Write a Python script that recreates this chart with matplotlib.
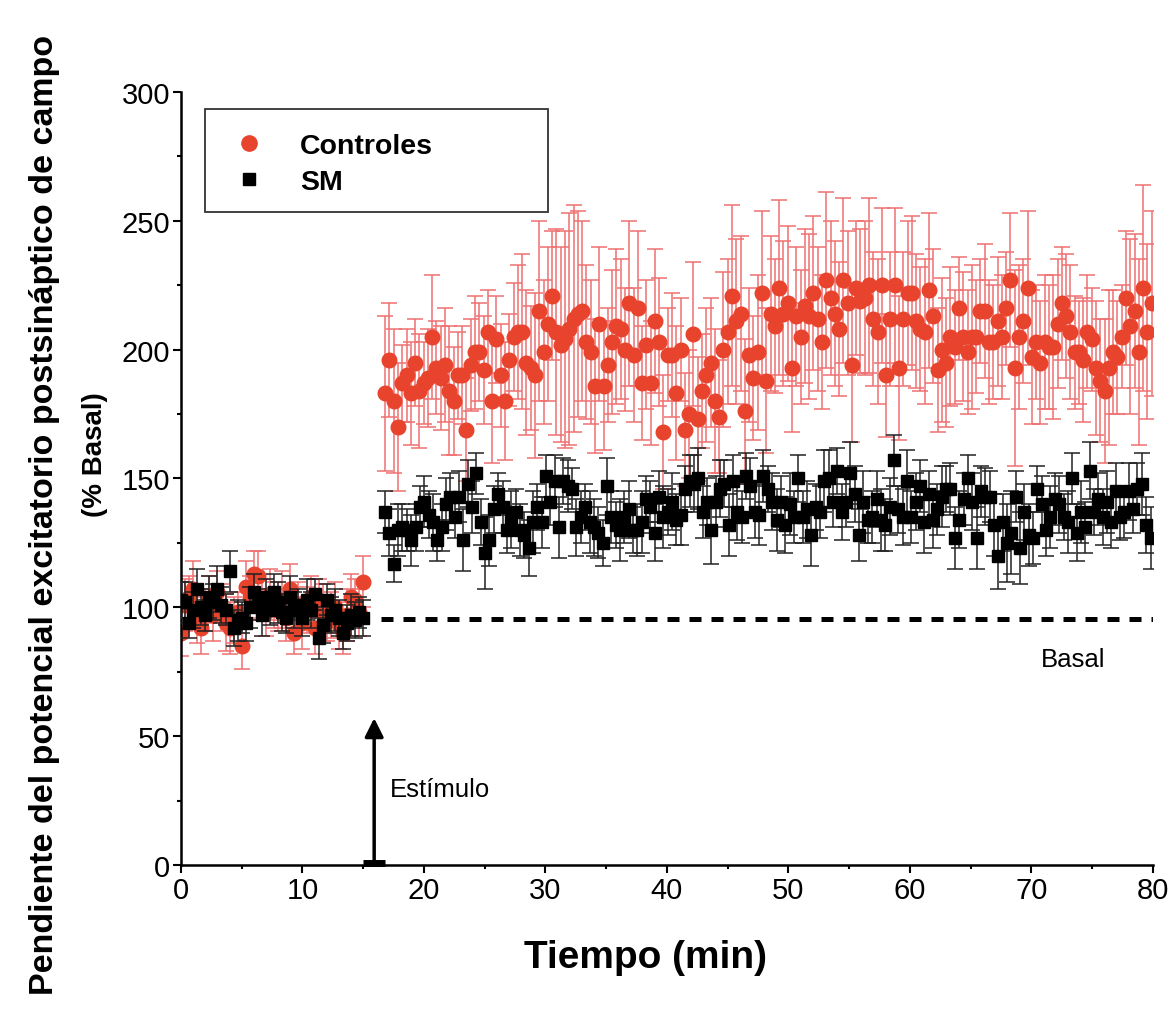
import numpy as np
import matplotlib
matplotlib.use("Agg")
import matplotlib.pyplot as plt
from matplotlib.lines import Line2D
from matplotlib.patches import Rectangle

plt.rcParams['font.family'] = ['Liberation Sans', 'DejaVu Sans']

# ---- data ----
# baseline (0-15 min), one sample every 20 s
base_t = np.linspace(0, 15, 46)
ctrl_base = [90, 101, 104, 107, 95, 92, 99, 103, 97, 106,
             100, 94, 92, 95, 98, 85, 108, 104, 113, 112,
             103, 98, 105, 101, 99, 103, 96, 107, 90, 101,
             94, 99, 104, 92, 102, 98, 95, 97, 100, 93,
             90, 97, 104, 103, 98, 110]
ctrl_base_err = [9, 10, 8, 11, 9, 10, 8, 9, 10, 8,
                 9, 11, 10, 9, 8, 9, 10, 8, 9, 10,
                 8, 9, 10, 9, 8, 11, 9, 10, 8, 9,
                 10, 9, 8, 10, 9, 11, 8, 9, 10, 9,
                 8, 10, 9, 8, 9, 10]
sm_base = [103, 102, 94, 99, 107, 100, 97, 104, 102, 107,
           101, 99, 114, 92, 95, 96, 94, 100, 106, 101,
           97, 104, 99, 106, 102, 98, 96, 104, 99, 101,
           96, 103, 99, 105, 88, 93, 103, 97, 99, 96,
           90, 94, 97, 95, 98, 96]
sm_base_err = [7, 8, 6, 7, 8, 7, 6, 8, 7, 9,
               7, 6, 8, 7, 8, 6, 7, 8, 7, 6,
               8, 7, 6, 7, 8, 7, 6, 8, 7, 6,
               7, 8, 7, 6, 8, 7, 6, 7, 8, 7,
               6, 7, 8, 7, 6, 7]

# after the stimulus (16.8-80 min)
ctrl_post = [183, 196, 180, 170, 187, 190, 183, 195, 184, 187,
             189, 205, 193, 189, 194, 184, 180, 190, 190, 169,
             194, 199, 199, 192, 207, 180, 204, 190, 180, 196,
             205,
             207, 207, 195, 193, 190, 215, 199, 210, 221, 207,
             202, 204, 208, 212, 214, 215, 203, 199, 186, 210,
             186, 194, 203, 209, 208, 200, 218, 198, 216, 187,
             202, 187, 211,
             203, 168, 198, 198, 183, 200, 169, 175, 206, 173,
             184, 190, 195, 180, 174, 200, 207, 221, 211, 214,
             176, 198, 189, 199, 222, 188, 214, 209, 224, 214,
             218, 193, 213, 205, 217,
             213, 222, 212, 203, 227, 220, 214, 208, 227, 218,
             194, 224, 219, 220, 225, 212, 207, 225, 190, 212,
             225, 193, 212, 222, 222, 211, 208, 207, 223, 213,
             192, 200, 195, 205,
             201, 216, 205, 199, 205, 205, 215, 215, 203, 203,
             211, 205, 216, 227, 193, 205, 211, 224, 197, 203,
             195, 203, 201, 201, 210, 218, 213, 207, 199, 199,
             196, 207, 204, 193, 188, 184, 193, 199, 197, 205,
             220, 209, 215, 199, 224, 207, 218]
ctrl_post_err = [30, 22, 28, 25, 15, 18, 20, 17, 22, 16,
                 19, 24, 18, 20, 22, 25, 21, 17, 19, 20,
                 18, 22, 19, 21, 16, 24, 17, 20, 23, 18,
                 21,
                 26, 30, 28, 24, 32, 35, 28, 30, 25, 40,
                 38, 42, 45, 44, 40, 35, 30, 28, 26, 30,
                 25, 22, 28, 30, 27, 24, 32, 26, 30, 22,
                 25, 24, 28,
                 25, 22, 18, 24, 26, 20, 22, 25, 28, 24,
                 22, 26, 25, 28, 22, 30, 28, 35, 32, 30,
                 28, 26, 24, 30, 32, 28, 30, 26, 34, 28,
                 30, 25, 27, 26, 30,
                 32, 30, 28, 26, 34, 30, 28, 26, 32, 28,
                 30, 26, 28, 30, 34, 26, 28, 30, 24, 26,
                 30, 28, 26, 28, 30, 26, 24, 28, 30, 26,
                 24, 28, 25, 27,
                 22, 20, 25, 24, 28, 22, 20, 26, 24, 22,
                 25, 24, 22, 26, 38, 28, 24, 30, 26, 22,
                 24, 26, 24, 28, 25, 22, 24, 26, 22, 20,
                 24, 22, 20, 26, 24, 28, 30, 24, 22, 20,
                 26, 34, 30, 36, 40, 34, 36]
sm_post = [137, 129, 117, 130, 131, 130, 126, 131, 139, 141,
           136, 133, 126, 131, 140, 143, 135, 143, 126, 148,
           139, 152, 133, 121, 126, 138, 144, 139, 130, 134,
           137,
           130, 128, 123, 133, 139, 133, 151, 141, 149, 131,
           149, 147, 146, 131, 135, 139, 133, 131, 129, 125,
           147, 135, 132, 130, 135, 138, 130, 130, 133, 142,
           139, 129,
           143, 135, 137, 141, 134, 136, 146, 149, 148, 150,
           137, 141, 130, 141, 146, 148, 132, 149, 137, 135,
           151, 147, 137, 136, 151, 146, 141, 134, 141, 132,
           140, 135, 150,
           135, 138, 128, 139, 137, 149, 150, 141, 153, 137,
           141, 152, 144, 128, 141, 134, 135, 142, 134, 132,
           139, 157, 138, 135, 149, 135, 141, 147, 133, 144,
           134, 138, 143, 146,
           146, 127, 134, 142, 150, 141, 127, 145, 143, 143,
           132, 120, 133, 125, 129, 143, 123, 137, 128, 127,
           146, 140, 130, 135, 142, 140, 135, 133, 150, 129,
           137, 131, 153, 137, 142, 135, 141, 133, 145, 135,
           137, 145, 138, 146, 148, 132, 127]
sm_post_err = [8, 9, 7, 10, 9, 8, 10, 9, 8, 10,
               9, 11, 8, 9, 10, 9, 8, 10, 12, 9,
               10, 8, 9, 14, 10, 9, 8, 10, 9, 11,
               9,
               10, 9, 11, 12, 9, 10, 8, 9, 10, 12,
               9, 10, 8, 11, 10, 9, 12, 11, 10, 9,
               11, 10, 9, 12, 10, 11, 9, 10, 12, 9,
               10, 11,
               10, 12, 9, 11, 10, 12, 9, 10, 11, 12,
               10, 9, 13, 10, 11, 9, 12, 10, 11, 10,
               9, 11, 10, 12, 10, 9, 11, 12, 10, 11,
               12, 10, 9,
               10, 11, 12, 9, 10, 12, 11, 10, 9, 11,
               10, 12, 11, 10, 12, 9, 10, 11, 12, 10,
               11, 10, 9, 11, 12, 10, 11, 10, 12, 9,
               11, 10, 12, 9,
               10, 12, 11, 10, 9, 11, 12, 10, 11, 10,
               12, 13, 11, 15, 16, 10, 14, 11, 12, 10,
               9, 11, 10, 12, 10, 11, 9, 12, 10, 11,
               12, 10, 11, 9, 10, 11, 12, 10, 11, 9,
               10, 11, 9, 10, 12, 11, 12]

ctrl_post_t = np.linspace(16.8, 79.9, len(ctrl_post))
sm_post_t = np.linspace(16.8, 79.8, len(sm_post))

basal_level = 95.5
stim_time = 15.9
stim_arrow_top = 57

ctrl_t = np.concatenate([base_t, ctrl_post_t])
ctrl_y = np.array(ctrl_base + ctrl_post)
ctrl_e = np.array(ctrl_base_err + ctrl_post_err)
sm_t = np.concatenate([base_t, sm_post_t])
sm_y = np.array(sm_base + sm_post)
sm_e = np.array(sm_base_err + sm_post_err)

RED = '#e8432c'
RED_BAR = '#ef7070'

# ---- figure ----
fig = plt.figure(figsize=(11.73, 10.12), dpi=100)
ax = fig.add_axes([0.1543, 0.1443, 0.8286, 0.7638])

ax.errorbar(ctrl_t, ctrl_y, yerr=ctrl_e, fmt='o', color=RED, ms=10.5,
            mec=RED, ecolor=RED_BAR, elinewidth=1.1, capsize=6, capthick=1.1,
            zorder=2)
ax.errorbar(sm_t, sm_y, yerr=sm_e, fmt='s', color='black', ms=8.5,
            ecolor='#222222', elinewidth=1.1, capsize=6, capthick=1.1,
            zorder=3)

# basal reference line
ax.plot([16.5, 80], [basal_level, basal_level], color='black', lw=3.6,
        ls=(0, (2.4, 2.0)), zorder=4)
ax.text(73.4, 80, 'Basal', fontsize=18.5, ha='center', va='center')

# stimulus arrow
ax.annotate('', xy=(stim_time, stim_arrow_top), xytext=(stim_time, 0),
            arrowprops=dict(arrowstyle='-|>', lw=2.5, color='black',
                            mutation_scale=28, shrinkA=0, shrinkB=0))
ax.plot([15.0, 16.8], [0.8, 0.8], color='black', lw=5,
        solid_capstyle='butt', clip_on=False, zorder=5)
ax.text(17.2, 29.5, 'Estímulo', fontsize=18.5, ha='left', va='center')

ax.set_xlim(0, 80)
ax.set_ylim(0, 300)
ax.set_xticks(np.arange(0, 81, 10))
ax.set_xticks(np.arange(0, 81, 5), minor=True)
ax.set_yticks(np.arange(0, 301, 50))
ax.set_yticks(np.arange(0, 301, 25), minor=True)
ax.tick_params(which='major', length=6, width=1.5, labelsize=21, pad=2)
ax.tick_params(which='minor', length=3, width=1.5)
for s in ['top', 'right']:
    ax.spines[s].set_visible(False)
for s in ['left', 'bottom']:
    ax.spines[s].set_linewidth(1.8)

# legend
box = Rectangle((205 / 1173, 1 - 213 / 1012), 343 / 1173, 103 / 1012,
                transform=fig.transFigure, facecolor='white',
                edgecolor='#333333', lw=1.3, zorder=6, clip_on=False)
ax.add_patch(box)
handles = [Line2D([], [], marker='o', ls='', color=RED, ms=11),
           Line2D([], [], marker='s', ls='', color='black', ms=8.5)]
leg = ax.legend(handles, ['Controles', 'SM'], loc='upper left',
                bbox_to_anchor=(0.171, 0.893), bbox_transform=fig.transFigure,
                frameon=False, prop={'weight': 'bold', 'size': 20.5},
                handletextpad=1.0, labelspacing=0.35, handlelength=1.6)
leg.set_zorder(7)

# axis labels
fig.text(645 / 1173, 1 - 958 / 1012, 'Tiempo (min)', fontsize=28,
         fontweight='bold', ha='center', va='center')
fig.text(45 / 1173, 1 - 515 / 1012,
         'Pendiente del potencial excitatorio postsináptico de campo',
         fontsize=24.5, fontweight='bold', rotation=90,
         ha='center', va='center')
fig.text(95 / 1173, 1 - 455 / 1012, '(% Basal)', fontsize=20,
         fontweight='bold', rotation=90, ha='center', va='center')

fig.savefig('out.png', dpi=100)
